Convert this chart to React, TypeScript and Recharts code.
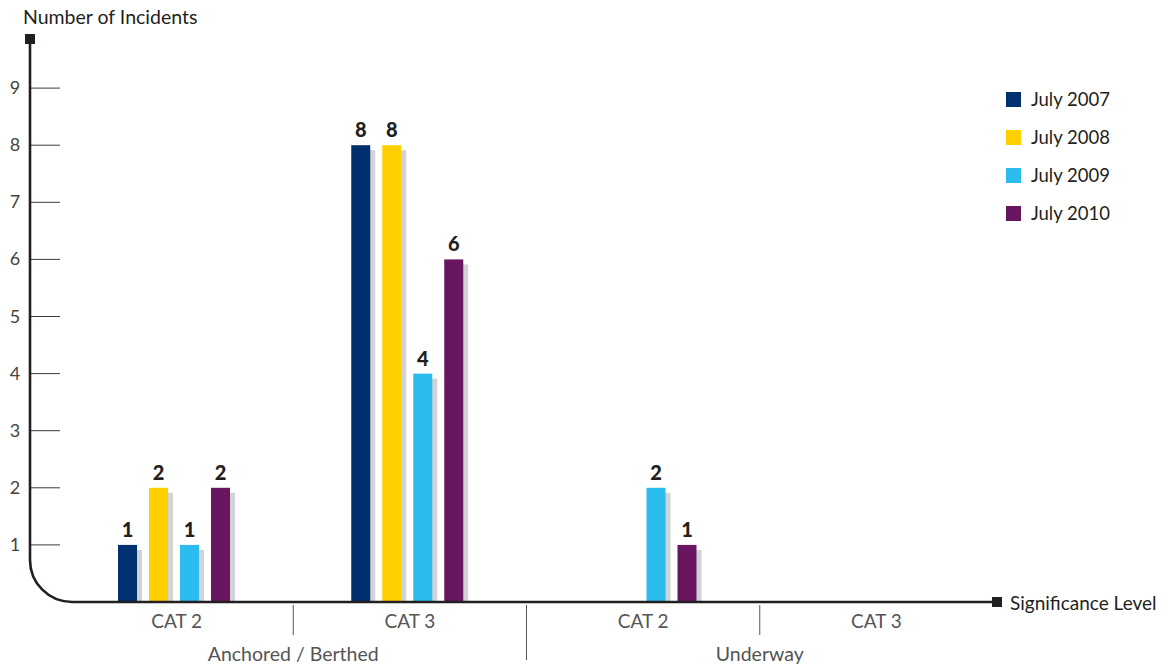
import React from 'react';
import { BarChart, Bar, XAxis, YAxis, Legend, LabelList } from 'recharts';

// Incidents per significance level, split by location of the vessel
const categories = ['CAT 2', 'CAT 3', 'CAT 2', 'CAT 3'];
const groups = ['Anchored / Berthed', 'Underway'];
const july2007 = [1, 8, 0, 0];
const july2008 = [2, 8, 0, 0];
const july2009 = [1, 4, 2, 0];
const july2010 = [2, 6, 1, 0];
const yTicks = [1, 2, 3, 4, 5, 6, 7, 8, 9];

const SERIES = [
  { key: 'y2007', name: 'July 2007', color: '#00306f', values: july2007 },
  { key: 'y2008', name: 'July 2008', color: '#ffd000', values: july2008 },
  { key: 'y2009', name: 'July 2009', color: '#2bbbec', values: july2009 },
  { key: 'y2010', name: 'July 2010', color: '#67165f', values: july2010 },
];

const data = categories.map((c, i) => {
  const row: Record<string, string | number> = { id: `${c}-${i}`, category: c };
  SERIES.forEach((s) => (row[s.key] = s.values[i]));
  return row;
});

const W = 1173;
const H = 668;
const AXIS_X = 30; // y axis line
const TICK_END = 60;
const PLOT_LEFT = 57;
const PLOT_RIGHT = 990;
const PLOT_TOP = 31;
const PLOT_BOTTOM = 602;
const BAND = (PLOT_RIGHT - PLOT_LEFT) / categories.length;
const LABEL_SHIFT = 3; // category text and dividers sit a little right of the bars
const FONT = 'Lato, "Open Sans", sans-serif';
const INK = '#231f20';

const ShadowBar = (props: any) => {
  const { x, y, width, height, fill } = props;
  if (!height || height <= 0) return null;
  return (
    <g>
      <rect x={x + 5} y={y + 5} width={width} height={Math.max(0, height - 5)} fill="#d2d3d5" />
      <rect x={x} y={y} width={width} height={height} fill={fill} />
    </g>
  );
};

const ValueLabel = (props: any) => {
  const { x, y, width, value } = props;
  if (!value) return null;
  return (
    <text
      x={x + width / 2}
      y={y - 8}
      textAnchor="middle"
      fontFamily={FONT}
      fontWeight={900}
      fontSize={20}
      fill={INK}
    >
      {value}
    </text>
  );
};

const YTick = (props: any) => {
  const { y, payload } = props;
  return (
    <g>
      <line x1={AXIS_X} x2={TICK_END} y1={y} y2={y} stroke="#3a3a3a" strokeWidth={1} />
      <text x={15} y={y + 6} textAnchor="middle" fontFamily={FONT} fontSize={18} fill="#444">
        {payload.value}
      </text>
    </g>
  );
};

const XTick = (props: any) => {
  const { x, index } = props;
  const cx = x + LABEL_SHIFT;
  const right = cx + BAND / 2;
  const isGroupStart = index % 2 === 0;
  const isLast = index === categories.length - 1;
  return (
    <g>
      <text x={cx} y={PLOT_BOTTOM + 26} textAnchor="middle" fontFamily={FONT} fontSize={19} fill="#555">
        {categories[index]}
      </text>
      {!isLast && (
        <line
          x1={right}
          x2={right}
          y1={PLOT_BOTTOM + 3}
          y2={isGroupStart ? PLOT_BOTTOM + 33 : PLOT_BOTTOM + 58}
          stroke="#555"
          strokeWidth={1}
        />
      )}
      {isGroupStart && (
        <text x={right} y={PLOT_BOTTOM + 59} textAnchor="middle" fontFamily={FONT} fontSize={19.5} fill="#555">
          {groups[index / 2]}
        </text>
      )}
    </g>
  );
};

const LegendBox = () => (
  <div style={{ fontFamily: FONT }}>
    {SERIES.map((s) => (
      <div key={s.key} style={{ display: 'flex', alignItems: 'center', height: 38 }}>
        <div style={{ width: 15, height: 15, background: s.color, marginRight: 10 }} />
        <span style={{ fontSize: 18.5, color: INK }}>{s.name}</span>
      </div>
    ))}
  </div>
);

// L-shaped axes with a rounded corner and square end caps
const Axes = () => {
  const r = 42;
  return (
    <svg
      width={W}
      height={H}
      style={{ position: 'absolute', left: 0, top: 0, pointerEvents: 'none' }}
    >
      <path
        d={`M ${AXIS_X} 40 L ${AXIS_X} ${PLOT_BOTTOM - r} A ${r} ${r} 0 0 0 ${AXIS_X + r} ${PLOT_BOTTOM} L 996 ${PLOT_BOTTOM}`}
        fill="none"
        stroke={INK}
        strokeWidth={2.6}
      />
      <rect x={AXIS_X - 5} y={34} width={10} height={10} fill={INK} />
      <rect x={992} y={PLOT_BOTTOM - 5} width={10} height={10} fill={INK} />
      <text x={23} y={24} fontFamily={FONT} fontSize={19.5} fill={INK}>
        Number of Incidents
      </text>
      <text x={1010} y={610} fontFamily={FONT} fontSize={19} fill={INK}>
        Significance Level
      </text>
    </svg>
  );
};

export default function App() {
  return (
    <div style={{ position: 'relative', width: W, height: H, background: '#fff' }}>
      <style>{'body{margin:0}'}</style>
      <BarChart
        width={W}
        height={H}
        data={data}
        margin={{ top: PLOT_TOP, right: W - PLOT_RIGHT, left: AXIS_X, bottom: 0 }}
        barSize={19}
        barGap={12}
      >
        <XAxis
          dataKey="id"
          height={H - PLOT_BOTTOM}
          axisLine={false}
          tickLine={false}
          tickSize={0}
          interval={0}
          tick={<XTick />}
        />
        <YAxis
          width={PLOT_LEFT - AXIS_X}
          domain={[0, 10]}
          ticks={yTicks}
          axisLine={false}
          tickLine={false}
          tick={<YTick />}
        />
        <Legend
          layout="vertical"
          align="center"
          verticalAlign="middle"
          content={<LegendBox />}
          wrapperStyle={{ position: 'absolute', left: 1006, top: 80, width: 150 }}
        />
        {SERIES.map((s) => (
          <Bar key={s.key} dataKey={s.key} name={s.name} fill={s.color} shape={<ShadowBar />} isAnimationActive={false}>
            <LabelList dataKey={s.key} content={<ValueLabel />} />
          </Bar>
        ))}
      </BarChart>
      <Axes />
    </div>
  );
}
